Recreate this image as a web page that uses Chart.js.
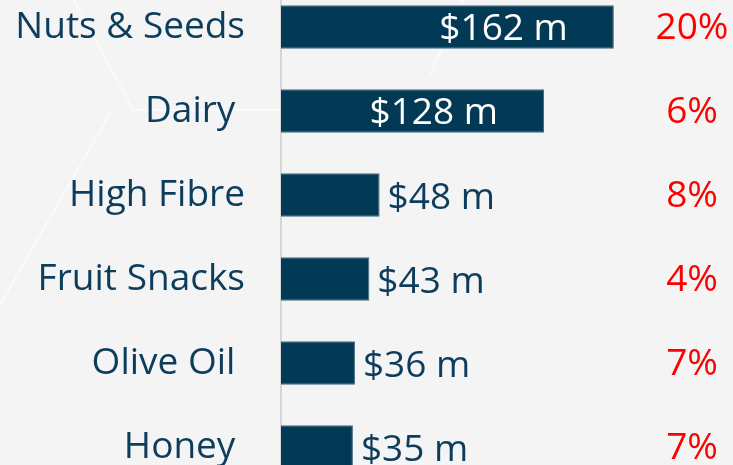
<!DOCTYPE html>
<html>
<head>
<meta charset="utf-8">
<script src="https://cdn.jsdelivr.net/npm/chart.js@4"></script>
<style>
    html, body { margin: 0; padding: 0; width: 733px; height: 465px; overflow: hidden; background: #f4f4f4; }
    #wrap { position: absolute; left: 0; top: -15px; width: 733px; height: 504px; }
</style>
</head>
<body>
<div id="wrap"><canvas id="salesChart" width="733" height="504"></canvas></div>
<script>
// Sales by category ($ millions) and growth
const categories = ['Nuts & Seeds', 'Dairy ', 'High Fibre', 'Fruit Snacks', 'Olive Oil ', 'Honey '];
const sales = [162, 128, 48, 43, 36, 35];
const growth = ['20%', '6%', '8%', '4%', '7%', '7%'];

const navy = '#023a56';
const textNavy = '#0d3d5c';
const labelFont = '37px "Open Sans"';

// faint decorative lines in the background
const backdrop = {
    id: 'backdrop',
    beforeDraw(chart) {
        const ctx = chart.ctx;
        ctx.save();
        ctx.fillStyle = '#f4f4f4';
        ctx.fillRect(0, 0, chart.width, chart.height);
        ctx.strokeStyle = 'rgba(255,255,255,0.55)';
        ctx.lineWidth = 2;
        ctx.beginPath();
        ctx.moveTo(66, 0);
        ctx.lineTo(133, 125);
        ctx.lineTo(280, 125);
        ctx.moveTo(112, 125);
        ctx.lineTo(0, 320);
        ctx.moveTo(470, 0);
        ctx.lineTo(430, 90);
        ctx.stroke();
        ctx.restore();
    }
};

// value labels and growth figures
const barLabels = {
    id: 'barLabels',
    afterDatasetsDraw(chart) {
        const ctx = chart.ctx;
        const meta = chart.getDatasetMeta(0);
        ctx.save();
        ctx.font = labelFont;
        ctx.textBaseline = 'middle';
        meta.data.forEach((bar, i) => {
            const text = '$' + sales[i] + ' m';
            const w = ctx.measureText(text).width;
            const barLen = bar.x - bar.base;
            if (barLen > w + 60) {
                ctx.fillStyle = '#ffffff';
                ctx.textAlign = 'right';
                ctx.fillText(text, bar.x - 46, bar.y + 2);
            } else {
                ctx.fillStyle = textNavy;
                ctx.textAlign = 'left';
                ctx.fillText(text, bar.x + 8, bar.y + 3);
            }
            ctx.fillStyle = '#ff0000';
            ctx.textAlign = 'center';
            ctx.fillText(growth[i], chart.chartArea.right - 41, bar.y + 1);
        });
        ctx.restore();
    }
};

const ctx = document.getElementById('salesChart').getContext('2d');
const salesChart = new Chart(ctx, {
    type: 'bar',
    data: {
        labels: categories,
        datasets: [{
            data: sales,
            backgroundColor: navy,
            borderColor: '#3f6a84',
            borderWidth: 1,
            categoryPercentage: 1,
            barPercentage: 0.52
        }]
    },
    options: {
        indexAxis: 'y',
        responsive: false,
        animation: false,
        layout: { padding: 0 },
        plugins: {
            legend: { display: false },
            tooltip: { enabled: false }
        },
        scales: {
            x: {
                display: false,
                min: 0,
                max: 220
            },
            y: {
                grid: { display: false, drawTicks: false },
                border: { display: true, color: '#d6d6d6', width: 2 },
                ticks: {
                    color: textNavy,
                    font: { family: '"Open Sans"', size: 37 },
                    padding: 36
                },
                afterFit(scale) {
                    scale.width = 281;
                    scale.paddingTop = 0;
                    scale.paddingBottom = 0;
                }
            }
        }
    },
    plugins: [backdrop, barLabels]
});
</script>
</body>
</html>
